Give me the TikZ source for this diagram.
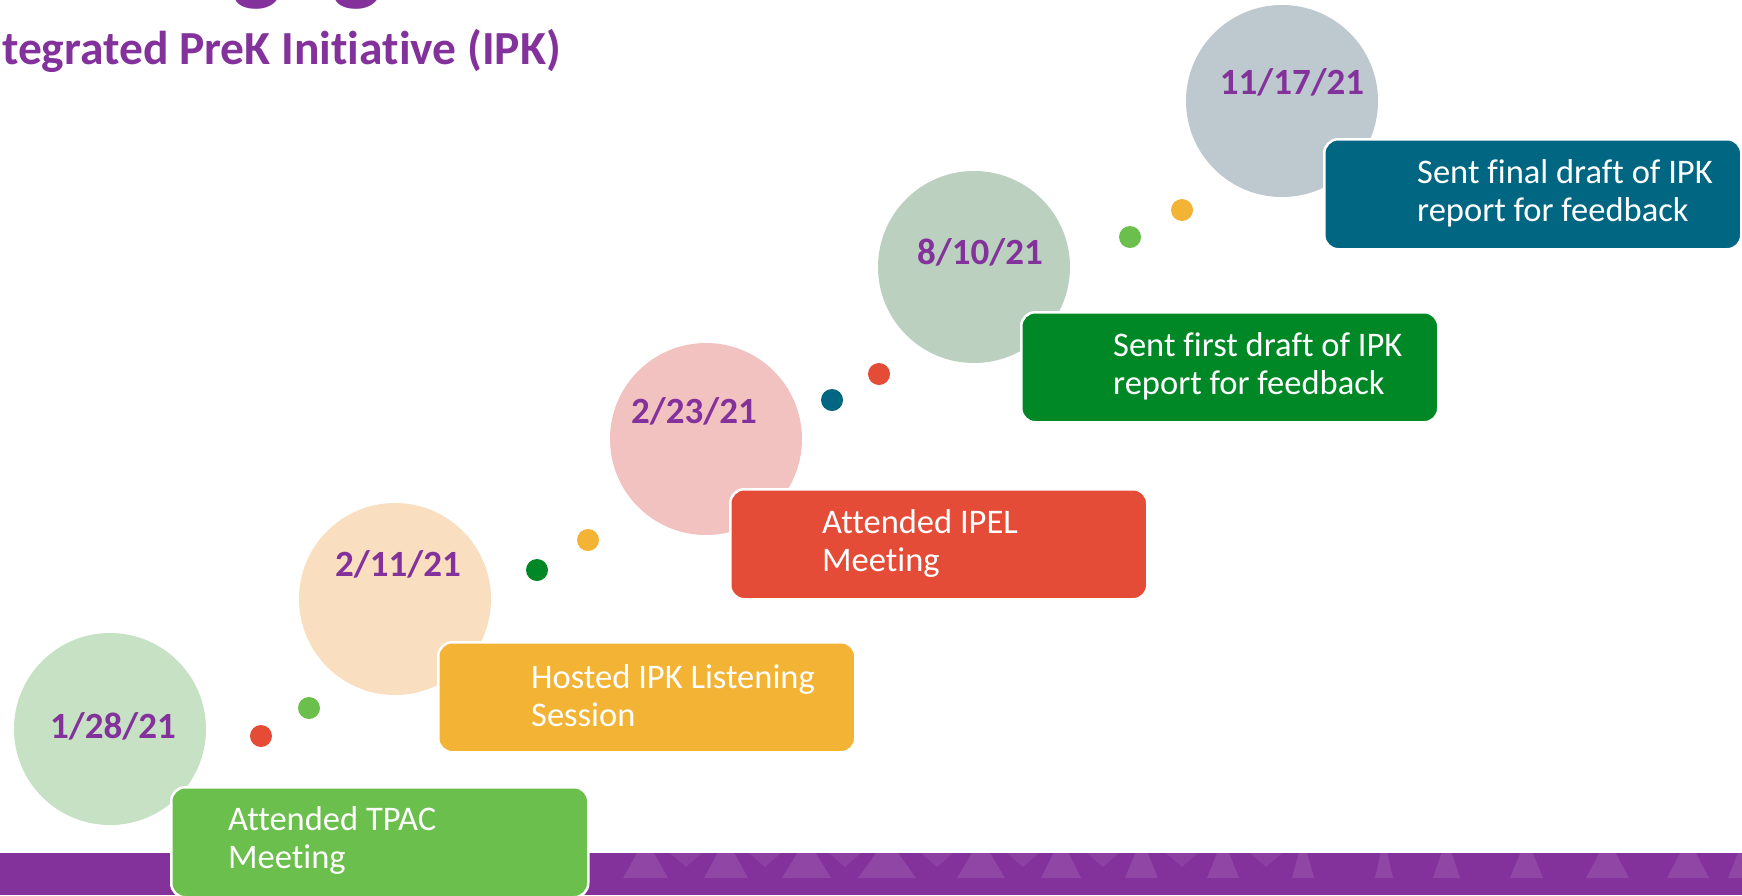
\documentclass[tikz,border=0pt]{standalone}
\usepackage{fontspec}
\setmainfont{Carlito}[Ligatures={NoCommon}]
\usepackage{xcolor}
\usepackage{tikz}

\definecolor{ipkpurple}{HTML}{84329B}
\definecolor{mintlight}{HTML}{C6E1C4}
\definecolor{peachlight}{HTML}{F9DEC0}
\definecolor{pinklight}{HTML}{F2C2C0}
\definecolor{sagelight}{HTML}{BCD0C0}
\definecolor{greylight}{HTML}{BDC8CF}
\definecolor{ipkgreen}{HTML}{6BBF4C}
\definecolor{ipkorange}{HTML}{F3B335}
\definecolor{ipkred}{HTML}{E54C38}
\definecolor{ipkdkgreen}{HTML}{008826}
\definecolor{ipkteal}{HTML}{006682}

\tikzset{
  datecirc/.style={circle, inner sep=0pt, minimum size=192pt},
  datetext/.style={font=\fontsize{37}{44}\selectfont\bfseries, text=ipkpurple, inner sep=0pt},
  eventbox/.style={rounded corners=14pt, draw=white, line width=2.5pt, minimum width=417pt,
    minimum height=110pt, anchor=north west, inner sep=0pt},
  eventtext/.style={font=\fontsize{34.5}{38}\selectfont, text=white, align=left, anchor=west, inner sep=0pt},
  dot/.style={circle, inner sep=0pt, minimum size=22pt},
}

\begin{document}
\begin{tikzpicture}[x=1pt, y=-1pt]
    \useasboundingbox (0,0) rectangle (1742,895);
    \clip (0,0) rectangle (1742,895);
    \fill[white] (0,0) rectangle (1742,895);

    % title, cut off by the top and left edges
    \node[anchor=base west, inner sep=0pt, text=ipkpurple, font=\fontsize{105}{120}\selectfont\bfseries] (title) at (125,-9) {Engagement};
    \node[anchor=base east, inner sep=0pt, text=ipkpurple, font=\fontsize{47.5}{54}\selectfont\bfseries] (subtitle) at (561,64) {Integrated PreK Initiative (IPK)};

    % footer band
    \fill[ipkpurple] (0,853) rectangle (1742,895);
    \begin{scope}
        \clip (0,853) rectangle (1742,895);
        \foreach \l/\r in {623/668, 704/748, 782/831, 858/916, 957/1005, 1041/1081, 1125/1158,
                           1207/1239, 1292/1314, 1375/1393, 1433/1460, 1510/1543, 1586/1629, 1667/1709, 1728/1760}
            \fill[white, opacity=0.1] (\l,878) -- (\r,878) -- ({(\l+\r)/2},838) -- cycle;
        \foreach \m in {686, 765, 845, 937, 1023, 1103, 1182, 1266}
            \fill[white, opacity=0.07] (\m-16,853) -- (\m+16,853) -- (\m,867) -- cycle;
    \end{scope}

    % circles
    \node[datecirc, fill=mintlight] (c1) at (110,729) {};
    \node[datecirc, fill=peachlight] (c2) at (395,599) {};
    \node[datecirc, fill=pinklight] (c3) at (706,439) {};
    \node[datecirc, fill=sagelight] (c4) at (974,267) {};
    \node[datecirc, fill=greylight] (c5) at (1282,101) {};

    \node[datetext] (d1) at (113,726) {1/28/21};
    \node[datetext] (d2) at (398,564) {2/11/21};
    \node[datetext] (d3) at (694,411) {2/23/21};
    \node[datetext] (d4) at (980,252) {8/10/21};
    \node[datetext] (d5) at (1292,82) {11/17/21};

    % event boxes
    \node[eventbox, fill=ipkgreen] (b1) at (170,786) {};
    \node[eventbox, fill=ipkorange] (b2) at (437,641) {};
    \node[eventbox, fill=ipkred] (b3) at (729,488) {};
    \node[eventbox, fill=ipkdkgreen] (b4) at (1020,311) {};
    \node[eventbox, fill=ipkteal] (b5) at (1323,138) {};

    \node[eventtext] (t1) at (228,840) {Attended TPAC\\Meeting};
    \node[eventtext] (t2) at (531,696) {Hosted IPK Listening\\Session};
    \node[eventtext] (t3) at (822,543) {Attended IPEL\\Meeting};
    \node[eventtext] (t4) at (1113,366) {Sent first draft of IPK\\report for feedback};
    \node[eventtext] (t5) at (1417,193) {Sent final draft of IPK\\report for feedback};

    % dots between steps
    \node[dot, fill=ipkred] (p1) at (261,736) {};
    \node[dot, fill=ipkgreen] (p2) at (309,708) {};
    \node[dot, fill=ipkdkgreen] (p3) at (537,570) {};
    \node[dot, fill=ipkorange] (p4) at (588,540) {};
    \node[dot, fill=ipkteal] (p5) at (832,400) {};
    \node[dot, fill=ipkred] (p6) at (879,374) {};
    \node[dot, fill=ipkgreen] (p7) at (1130,237) {};
    \node[dot, fill=ipkorange] (p8) at (1182,210) {};
\end{tikzpicture}
\end{document}
